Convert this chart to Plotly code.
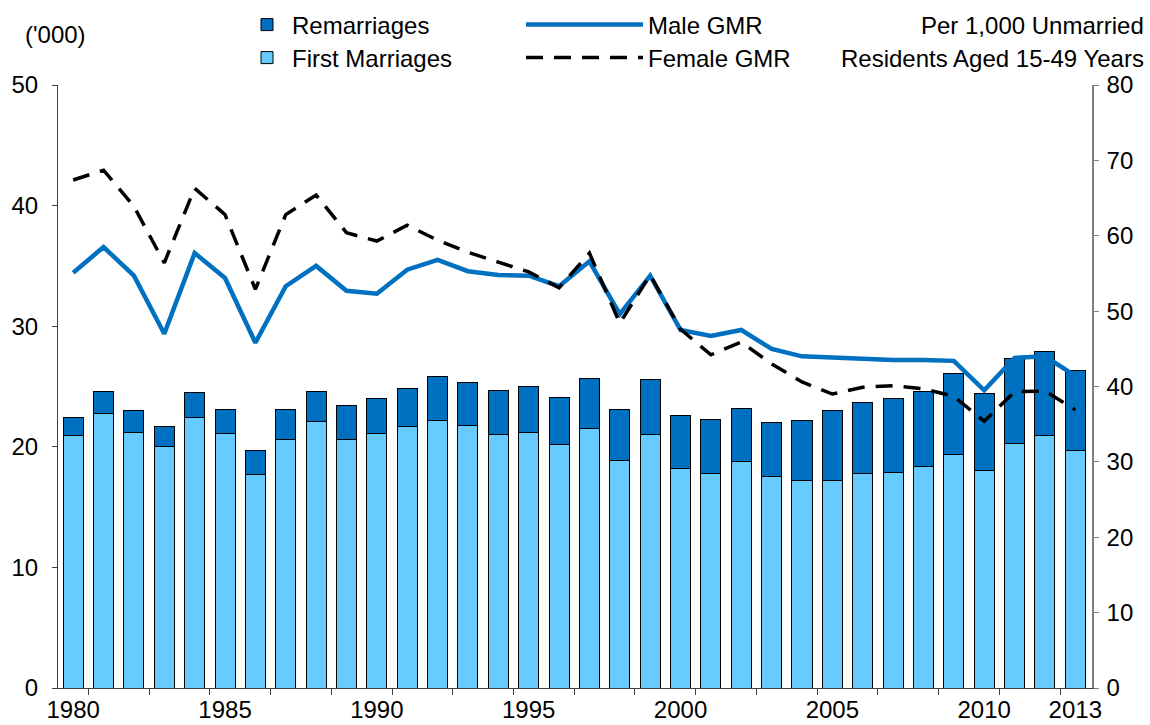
import plotly.graph_objects as go

years = list(range(1980, 2014))
first_marriages = [20.9, 22.8, 21.2, 20.0, 22.4, 21.1, 17.7, 20.6, 22.1, 20.6,
                   21.1, 21.7, 22.2, 21.8, 21.0, 21.2, 20.2, 21.5, 18.9, 21.0,
                   18.2, 17.8, 18.8, 17.5, 17.2, 17.2, 17.8, 17.9, 18.4, 19.4,
                   18.0, 20.3, 20.9, 19.7]
total_marriages = [22.4, 24.6, 23.0, 21.7, 24.5, 23.1, 19.7, 23.1, 24.6, 23.4,
                   24.0, 24.8, 25.8, 25.3, 24.7, 25.0, 24.1, 25.7, 23.1, 25.6,
                   22.6, 22.3, 23.2, 22.0, 22.2, 23.0, 23.7, 24.0, 24.6, 26.1,
                   24.4, 27.3, 27.9, 26.3]
remarriages = [round(t - f, 2) for t, f in zip(total_marriages, first_marriages)]
male_gmr = [55.1, 58.5, 54.7, 47.0, 57.7, 54.4, 45.8, 53.3, 56.0, 52.7,
            52.3, 55.5, 56.8, 55.3, 54.8, 54.7, 53.3, 56.6, 49.6, 54.7,
            47.5, 46.7, 47.5, 45.0, 44.0, 43.8, 43.6, 43.5, 43.5, 43.4,
            39.5, 43.8, 44.0, 41.4]
female_gmr = [67.4, 68.7, 63.9, 56.4, 66.3, 62.8, 52.9, 62.8, 65.4, 60.4,
              59.3, 61.4, 59.4, 57.8, 56.5, 55.2, 53.1, 57.7, 48.4, 54.8,
              47.6, 44.2, 45.9, 43.0, 40.6, 39.0, 39.9, 40.1, 39.7, 38.7,
              35.4, 39.3, 39.4, 36.9]
x_tick_labels = [1980, 1985, 1990, 1995, 2000, 2005, 2010, 2013]
x_minor_ticks = [y + 0.5 for y in range(1980, 2013, 2)]

FONT = "Liberation Sans, Arial, sans-serif"
DARK = "#0070C0"
LIGHT = "#66CCFF"
FS = 24

fig = go.Figure()
fig.add_trace(go.Bar(x=years, y=first_marriages, name="First Marriages",
                     marker=dict(color=LIGHT, line=dict(color="black", width=1)),
                     width=0.66, legend="legend2"))
fig.add_trace(go.Bar(x=years, y=remarriages, name="Remarriages",
                     marker=dict(color=DARK, line=dict(color="black", width=1)),
                     width=0.66, legend="legend"))
fig.add_trace(go.Scatter(x=years, y=male_gmr, name="Male GMR", yaxis="y2",
                         mode="lines", line=dict(color=DARK, width=4.5),
                         legend="legend3"))
fig.add_trace(go.Scatter(x=years, y=female_gmr, name="Female GMR", yaxis="y2",
                         mode="lines", line=dict(color="black", width=3.5, dash="17px,11px"),
                         legend="legend4"))

L, R, T, B = 58, 58, 85, 37
W, H = 1150, 725
pw, ph = W - L - R, H - T - B

def px(xp):
    return (xp - L) / pw

def py(yp):
    return (H - B - yp) / ph

leg_common = dict(font=dict(family=FONT, size=FS, color="black"),
                  bgcolor="rgba(0,0,0,0)", xanchor="left", yanchor="middle")

fig.update_layout(
    width=W, height=H,
    margin=dict(l=L, r=R, t=T, b=B, autoexpand=False),
    plot_bgcolor="white", paper_bgcolor="white",
    barmode="stack",
    font=dict(family=FONT, size=FS, color="black"),
    showlegend=True,
    legend=dict(x=px(242), y=py(25), itemwidth=40, **leg_common),
    legend2=dict(x=px(242), y=py(58), itemwidth=40, **leg_common),
    legend3=dict(x=px(521), y=py(25), itemwidth=117, **leg_common),
    legend4=dict(x=px(521), y=py(58), itemwidth=117, **leg_common),
    xaxis=dict(range=[1979.5, 2013.55], tickmode="array", tickvals=x_tick_labels,
               ticktext=[str(v) for v in x_tick_labels], ticks="",
               showline=True, linecolor="#404040", linewidth=1, showgrid=False,
               zeroline=False, tickfont=dict(size=FS),
               minor=dict(tickmode="array", tickvals=x_minor_ticks, ticks="outside",
                          ticklen=6, tickcolor="#404040", showgrid=False)),
    yaxis=dict(range=[0, 50], dtick=10, ticks="outside", ticklen=5, tickcolor="#404040",
               showline=True, linecolor="#404040", linewidth=1, showgrid=False,
               zeroline=False, tickfont=dict(size=FS), ticklabelstandoff=9),
    yaxis2=dict(range=[0, 80], dtick=10, overlaying="y", side="right", ticks="outside",
                ticklen=5, tickcolor="#808080", showline=True, linecolor="#808080",
                linewidth=1.5, showgrid=False, zeroline=False, tickfont=dict(size=FS),
                ticklabelstandoff=3),
    annotations=[
        dict(text="('000)", xref="paper", yref="paper", x=px(55), y=py(34),
             xanchor="center", yanchor="middle", showarrow=False,
             font=dict(family=FONT, size=FS)),
        dict(text="Per 1,000 Unmarried", xref="paper", yref="paper", x=px(1146), y=py(25),
             xanchor="right", yanchor="middle", showarrow=False,
             font=dict(family=FONT, size=FS)),
        dict(text="Residents Aged 15-49 Years", xref="paper", yref="paper", x=px(1146), y=py(58),
             xanchor="right", yanchor="middle", showarrow=False,
             font=dict(family=FONT, size=FS)),
    ],
)

fig.write_html(
    "out.html",
    config={"displayModeBar": False},
    post_script="document.documentElement.style.margin='0';document.body.style.margin='0';"
                "document.body.style.overflow='hidden';",
)
